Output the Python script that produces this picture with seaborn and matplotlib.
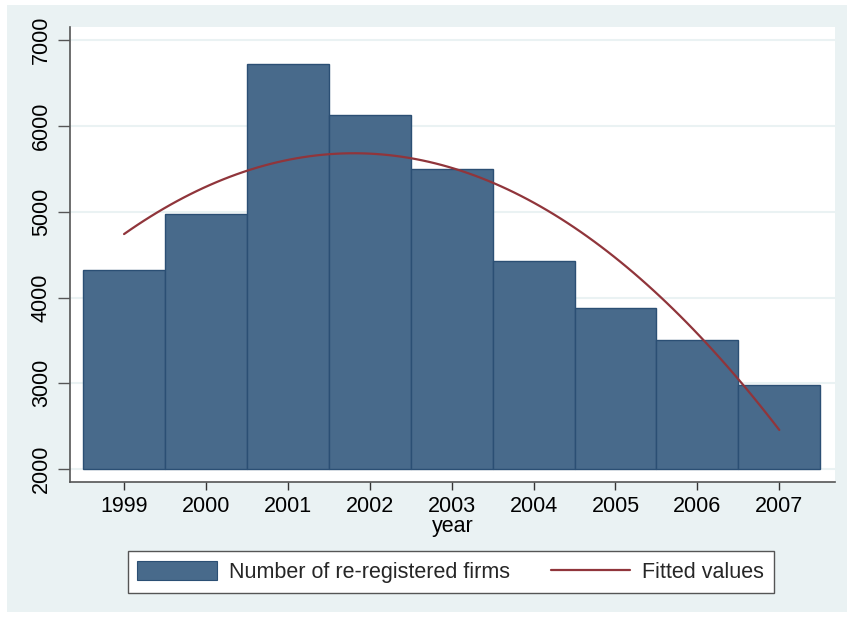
import numpy as np
import pandas as pd
import matplotlib
matplotlib.use("Agg")
import matplotlib.pyplot as plt
from matplotlib.patches import Rectangle, Patch
from matplotlib.lines import Line2D
import seaborn as sns

# Re-registered firms per year
years = [1999, 2000, 2001, 2002, 2003, 2004, 2005, 2006, 2007]
firms = [4320, 4970, 6720, 6125, 5503, 4430, 3878, 3505, 2980]

y_ticks = [2000, 3000, 4000, 5000, 6000, 7000]

sns.set_theme(style="white")
plt.rcParams["font.family"] = ["Liberation Sans", "DejaVu Sans"]

BG = "#EAF2F3"
BAR = "#486A8B"
BAR_EDGE = "#2B4F74"
FIT = "#90353B"
FS = 15.5
W, H = 847, 617

fig = plt.figure(figsize=(W / 100, H / 100), dpi=100, facecolor="white")
# outer graph region
bg = Rectangle((7 / W, 5 / H), 840 / W, 607 / H, transform=fig.transFigure,
               facecolor=BG, edgecolor="none", zorder=-10)
fig.add_artist(bg)

ax = fig.add_axes([70 / W, (H - 482.3) / H, (835 - 70) / W, (482.3 - 27) / H])
ax.set_zorder(1)
ax.set_facecolor("white")

df = pd.DataFrame({"year": years, "firms": firms})
df["pos"] = np.arange(len(years))

# bars rising from the 2000 baseline
sns.barplot(data=df, x="pos", y="firms", ax=ax, color=BAR, width=1.0,
            saturation=1, zorder=2, native_scale=True,
            edgecolor=BAR_EDGE, linewidth=1.0)
for p in ax.patches:
    h = p.get_height()
    p.set_y(2000)
    p.set_height(h - 2000)

# quadratic fit (qfit) of firms on year
coef = np.polyfit(df["year"], df["firms"], 2)
xs = np.linspace(years[0], years[-1], 100)
fit = pd.DataFrame({"pos": xs - years[0], "fit": np.polyval(coef, xs)})
sns.lineplot(data=fit, x="pos", y="fit", ax=ax, color=FIT, lw=1.6, zorder=3)

ax.set_xlim(-0.66, 8.68)
ax.set_ylim(1845, 7155)
ax.set_yticks(y_ticks)
ax.set_yticklabels([str(t) for t in y_ticks], rotation=90, va="center",
                   fontsize=FS)
ax.set_xticks(df["pos"])
ax.set_xticklabels([str(y) for y in years], fontsize=FS)
for t in y_ticks:
    ax.axhline(t, color=BG, lw=1.5, zorder=1)

for s in ["top", "right"]:
    ax.spines[s].set_visible(False)
for s in ["left", "bottom"]:
    ax.spines[s].set_color("#555555")
    ax.spines[s].set_linewidth(1.2)
ax.tick_params(axis="y", length=9, width=1.0, color="#555555", pad=4,
               left=True, labelcolor="black")
ax.tick_params(axis="x", length=6, width=1.0, color="#333333", pad=4,
               bottom=True, labelcolor="black")
ax.set_xlabel("year", fontsize=FS, labelpad=-1, color="black")
ax.set_ylabel("")

handles = [Patch(facecolor=BAR, edgecolor=BAR_EDGE, linewidth=0.8),
           Line2D([0], [0], color=FIT, lw=1.6)]
leg = fig.legend(handles, ["Number of re-registered firms", "Fitted values"],
                 loc="center", bbox_to_anchor=(450.8 / W, (H - 572) / H),
                 ncol=2, fontsize=FS, frameon=True, fancybox=False,
                 edgecolor="#555555", facecolor="white", framealpha=1,
                 handlelength=3.7, handleheight=1.0, columnspacing=1.9,
                 handletextpad=0.55, borderpad=0.45)
leg.get_frame().set_linewidth(1.0)

fig.savefig("out.png", dpi=100, facecolor=fig.get_facecolor())
